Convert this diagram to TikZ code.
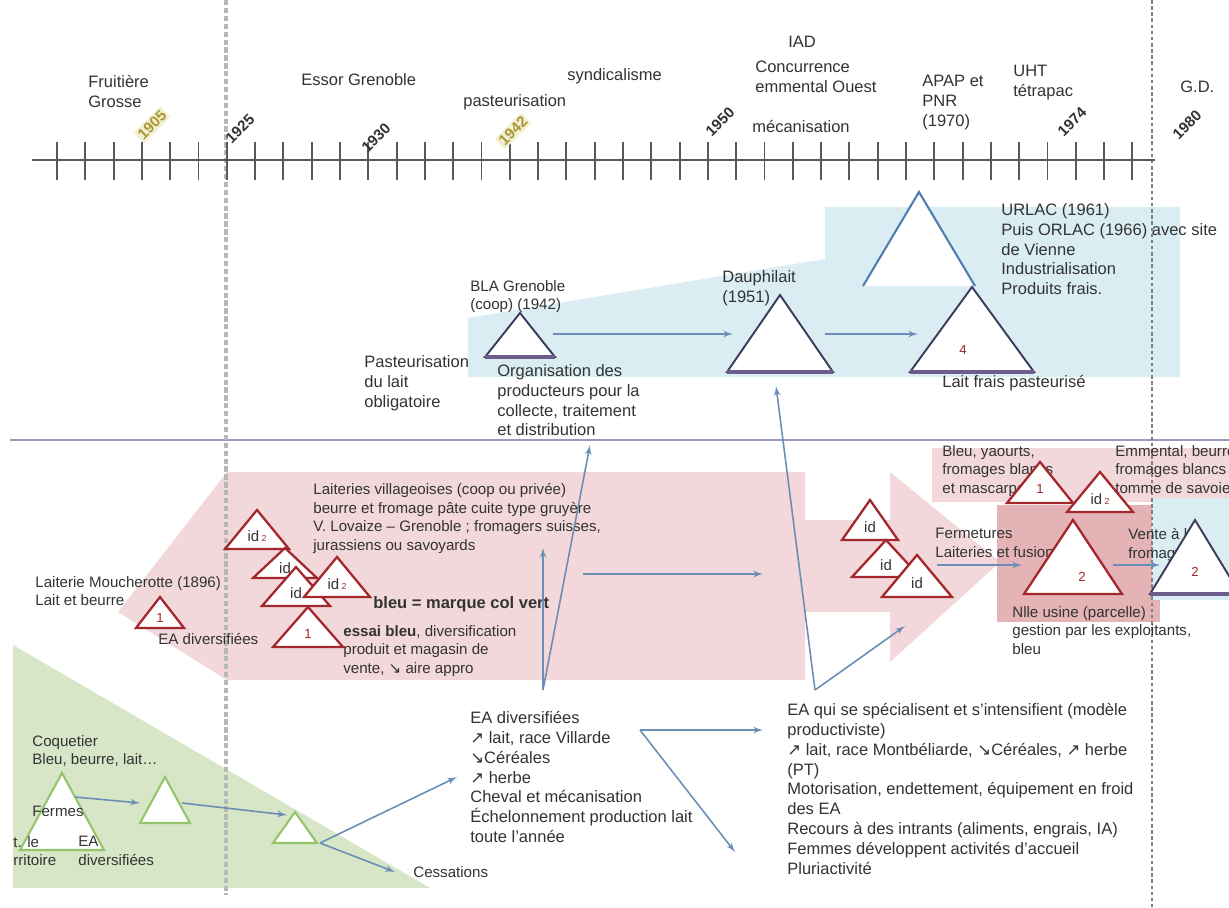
\documentclass[tikz,border=0pt]{standalone}
\usepackage{fontspec}
\setmainfont{Liberation Sans}
\newfontfamily\symfont{DejaVu Sans}
\usepackage{tikz}
\usetikzlibrary{arrows}

\definecolor{ink}{HTML}{333333}
\definecolor{flowblue}{HTML}{6A8EB6}
\definecolor{pinkbg}{HTML}{F2D8DA}
\definecolor{pinkdark}{HTML}{E4B3B5}
\definecolor{bluebg}{HTML}{D9EDF3}
\definecolor{greenbg}{HTML}{D7E6C6}
\definecolor{redtri}{HTML}{A3272C}
\definecolor{navytri}{HTML}{3C3B5E}
\definecolor{navybase}{HTML}{6E5D8C}
\definecolor{bluetri}{HTML}{4F7FB0}
\definecolor{greentri}{HTML}{94C46C}
\definecolor{sepline}{HTML}{9A9AC0}
\definecolor{yearolive}{HTML}{A9973A}
\definecolor{paleyel}{HTML}{F3EFCF}
\tikzset{flow/.style = {->, >=latex', draw=flowblue, line width=0.9pt}}

\newcommand{\hausse}{{\symfont ↗}}
\newcommand{\baisse}{{\symfont ↘}}
% triangle: style, name, base centre x, base y, half width, height
\newcommand{\tri}[6]{%
  \path[#1] ({#3-#5},#4) coordinate (#2-l) -- (#3,{#4-#6}) coordinate (#2-t)
    -- ({#3+#5},#4) coordinate (#2-r) -- cycle;
  \coordinate (#2) at (#3,{#4-#6/3});}

\begin{document}
\begin{tikzpicture}[x=0.02cm, y=-0.02cm,
    txt/.style={font=\fontsize{9.4}{11.3}\selectfont, text=ink, align=left, inner sep=0pt, anchor=north west},
    small txt/.style={txt, font=\fontsize{8.6}{10.6}\selectfont},
    year/.style={font=\fontsize{8.6}{9}\selectfont\bfseries, text=ink, rotate=45, inner sep=1pt},
    old year/.style={year, text=yearolive, fill=paleyel},
    red tri/.style={draw=redtri, line width=1.3pt, fill=white},
    navy tri/.style={draw=navytri, line width=1.1pt, fill=white},
    navy base/.style={draw=navybase, line width=1.8pt},
    green tri/.style={draw=greentri, line width=1.2pt, fill=white},
    tri num/.style={font=\fontsize{7.5}{8}\selectfont, text=redtri, inner sep=0pt},
    tri id/.style={font=\fontsize{8.5}{9}\selectfont, text=ink, inner sep=0pt}]
\useasboundingbox (0,0) rectangle (1229,908);
\clip (0,0) rectangle (1229,908);
\fill[white] (0,0) rectangle (1229,908);

% fonds
\fill[greenbg] (13,645) -- (430,888) -- (13,888) -- cycle;
\fill[bluebg] (468,318) -- (825,259) -- (825,207) -- (1180,207) -- (1180,377) -- (468,377) -- cycle;
\fill[pinkbg] (118,612) -- (227,472) -- (805,472) -- (805,520) -- (890,520) -- (890,472)
  -- (1000,562) -- (890,662) -- (890,612) -- (805,612) -- (805,680) -- (227,680) -- cycle;
\fill[pinkbg] (932,448) rectangle (1229,502);
\fill[pinkdark] (997,505) rectangle (1160,622);
\fill[bluebg] (1152,498) rectangle (1229,600);

% reperes
\draw[sepline, line width=1.5pt] (10,440) -- (1229,440);
\draw[black!28, line width=2pt, dash pattern=on 3pt off 1.5pt] (226,0) -- (226,895);
\draw[black!50, line width=1pt, dash pattern=on 2pt off 1.5pt] (1152,0) -- (1152,908);

% frise
\draw[black!65, line width=1.2pt] (32,160) -- (1155,160);
\foreach \k in {0,...,38}
  \draw[black!65, line width=1.1pt] ({57+28.3*\k},142) -- ++(0,38);
\node[old year] (y1905) at (152,125) {1905};
\node[year] (y1925) at (240,129) {1925};
\node[year] (y1930) at (376,138) {1930};
\node[old year] (y1942) at (513,131) {1942};
\node[year] (y1950) at (720,122) {1950};
\node[year] (y1974) at (1072,122) {1974};
\node[year] (y1980) at (1187,125) {1980};

\node[txt] (fruit) at (88,75) {Fruitière\\Grosse};
\node[txt] (essor) at (301,73) {Essor Grenoble};
\node[txt] (pasteur) at (463,94) {pasteurisation};
\node[txt] (syndic) at (567,68) {syndicalisme};
\node[txt] (iad) at (788,36) {IAD};
\node[txt] (concur) at (755,61) {Concurrence\\emmental Ouest};
\node[txt] (mecan) at (752,120) {mécanisation};
\node[txt] (apap) at (922,75) {APAP et\\PNR\\(1970)};
\node[txt] (uht) at (1013,65) {UHT\\tétrapac};
\node[txt] (gd) at (1180,81) {G.D.};

% triangles du bas
\tri{green tri}{g1}{62}{850}{42}{77}
\tri{green tri}{g2}{165}{823}{25}{46}
\tri{green tri}{g3}{295}{843}{22}{31}

% textes
\node[small txt] (blalbl) at (470,280) {BLA Grenoble\\(coop) (1942)};
\node[txt] (daulbl) at (722,270) {Dauphilait\\(1951)};
\node[txt] (oblig) at (364,355) {Pasteurisation\\du lait\\obligatoire};
\node[txt] (orga) at (497,364) {Organisation des\\producteurs pour la\\collecte, traitement\\et distribution};
\node[txt] (urlac) at (1001,203) {URLAC (1961)\\Puis ORLAC (1966) avec site\\de Vienne\\Industrialisation\\Produits frais.};
\node[txt] (frais) at (942,375) {Lait frais pasteurisé};

\node[small txt] (villag) at (313,483) {Laiteries villageoises (coop ou privée)\\beurre et fromage pâte cuite type gruyère\\V. Lovaize -- Grenoble ; fromagers suisses,\\jurassiens ou savoyards};
\node[txt] (marque) at (373,596) {\textbf{bleu = marque col vert}};
\node[small txt] (essai) at (343,625) {\textbf{essai bleu}, diversification\\produit et magasin de\\vente, \baisse\ aire appro};
\node[small txt] (moucher) at (35,576) {Laiterie Moucherotte (1896)\\Lait et beurre};
\node[small txt] (eadiv1) at (158,633) {EA diversifiées};
\node[small txt] (fermet) at (935,528) {Fermetures\\Laiteries et fusions};
\node[small txt] (bleuy) at (942,445) {Bleu, yaourts,\\fromages blancs\\et mascarpone};
\node[small txt] (emment) at (1115,445) {Emmental, beurre,\\fromages blancs\\tomme de savoie};
\node[small txt] (vente) at (1128,528) {Vente à la\\fromagerie};
\node[small txt] (usine) at (1012,606) {Nlle usine (parcelle)\\gestion par les exploitants,\\bleu};

\node[small txt] (coquet) at (32,735) {Coquetier\\Bleu, beurre, lait…};
\node[small txt] (fermes) at (32,806) {Fermes};
\node[small txt] (terr) at (13,836) {t. le\\rritoire};
\node[small txt] (eadiv2) at (78,836) {EA\\diversifiées};
\node[small txt] (cessat) at (413,866) {Cessations};
\node[txt] (eadiv3) at (470,711) {EA diversifiées\\\hausse\ lait, race Villarde\\\baisse Céréales\\\hausse\ herbe\\Cheval et mécanisation\\Échelonnement production lait\\toute l'année};
\node[txt] (easpec) at (787,703) {EA qui se spécialisent et s'intensifient (modèle\\productiviste)\\\hausse\ lait, race Montbéliarde, \baisse Céréales, \hausse\ herbe\\(PT)\\Motorisation, endettement, équipement en froid\\des EA\\Recours à des intrants (aliments, engrais, IA)\\Femmes développent activités d'accueil\\Pluriactivité};

% points des fleches
\coordinate (bla-out) at (553,334);
\coordinate (dau-in) at (733,334);
\coordinate (dau-out) at (825,334);
\coordinate (t4-in) at (918,334);
\coordinate (div-top) at (543,690);
\coordinate (orga-in) at (590,445);
\coordinate (vill-in) at (543,548);
\coordinate (mid-a) at (583,574);
\coordinate (mid-b) at (763,574);
\coordinate (spec-top) at (815,690);
\coordinate (dau-base) at (776,386);
\coordinate (ferm-in) at (905,626);
\coordinate (fus-a) at (937,565);
\coordinate (fus-b) at (1022,565);
\coordinate (vte-a) at (1113,565);
\coordinate (vte-b) at (1160,565);
\coordinate (g1-out) at (75,797);
\coordinate (g2-in) at (140,803);
\coordinate (g2-out) at (182,803);
\coordinate (g3-in) at (287,815);
\coordinate (g3-out) at (320,843);
\coordinate (div-in) at (457,777);
\coordinate (cess-in) at (395,872);
\coordinate (div-out) at (640,730);
\coordinate (spec-in) at (763,730);
\coordinate (down-end) at (735,852);

\draw[flow] (bla-out) -- (dau-in);
\draw[flow] (dau-out) -- (t4-in);
\draw[flow] (div-top) -- (orga-in);
\draw[flow] (div-top) -- (vill-in);
\draw[flow] (mid-a) -- (mid-b);
\draw[flow] (spec-top) -- (dau-base);
\draw[flow] (spec-top) -- (ferm-in);
\draw[flow] (fus-a) -- (fus-b);
\draw[flow] (vte-a) -- (vte-b);
\draw[flow] (g1-out) -- (g2-in);
\draw[flow] (g2-out) -- (g3-in);
\draw[flow] (g3-out) -- (div-in);
\draw[flow] (g3-out) -- (cess-in);
\draw[flow] (div-out) -- (spec-in);
\draw[flow] (div-out) -- (down-end);

% triangles du haut
\tri{navy tri}{bla}{520}{357}{35}{44}
\draw[navy base] (bla-l) -- (bla-r);
\tri{navy tri}{dau}{780}{372}{53}{77}
\draw[navy base] (dau-l) -- (dau-r);
\tri{fill=white}{ind}{919}{286}{56}{94}
\draw[bluetri, line width=1.2pt] (ind-l) -- (ind-t) -- (ind-r);
\tri{navy tri}{t4}{972}{372}{62}{85}
\draw[navy base] (t4-l) -- (t4-r);
\node[tri num] (n4) at (963,350) {4};

% triangles du milieu
\tri{red tri}{m1}{160}{628}{24}{31}
\node[tri num] (nm1) at (m1) {1};
\tri{red tri}{ida}{257}{549}{32}{39}
\node[tri id] (nida) at (ida) {id\textcolor{redtri}{\,\tiny 2}};
\tri{red tri}{idb}{285}{578}{32}{30}
\node[tri id] (nidb) at (idb) {id};
\tri{red tri}{idc}{296}{606}{34}{39}
\node[tri id] (nidc) at (idc) {id};
\tri{red tri}{idd}{337}{597}{33}{40}
\node[tri id] (nidd) at (idd) {id\textcolor{redtri}{\,\tiny 2}};
\tri{red tri}{one}{308}{647}{35}{40}
\node[tri num] (none) at (one) {1};

\tri{red tri}{r1}{870}{540}{28}{40}
\node[tri id] (nr1) at (r1) {id};
\tri{red tri}{r2}{886}{577}{34}{37}
\node[tri id] (nr2) at (r2) {id};
\tri{red tri}{r3}{917}{597}{35}{42}
\node[tri id] (nr3) at (r3) {id};
\tri{red tri}{u1}{1040}{503}{33}{41}
\node[tri num] (nu1) at (u1) {1};
\tri{red tri}{u2}{1100}{512}{33}{40}
\node[tri id] (nu2) at (u2) {id\textcolor{redtri}{\,\tiny 2}};
\tri{red tri}{big}{1073}{594}{49}{74}
\node[tri num] (nbig) at (1082,577) {2};
\tri{navy tri}{nv}{1195}{594}{45}{74}
\draw[navy base] (nv-l) -- (nv-r);
\node[tri num] (nnv) at (1195,572) {2};
\end{tikzpicture}
\end{document}
